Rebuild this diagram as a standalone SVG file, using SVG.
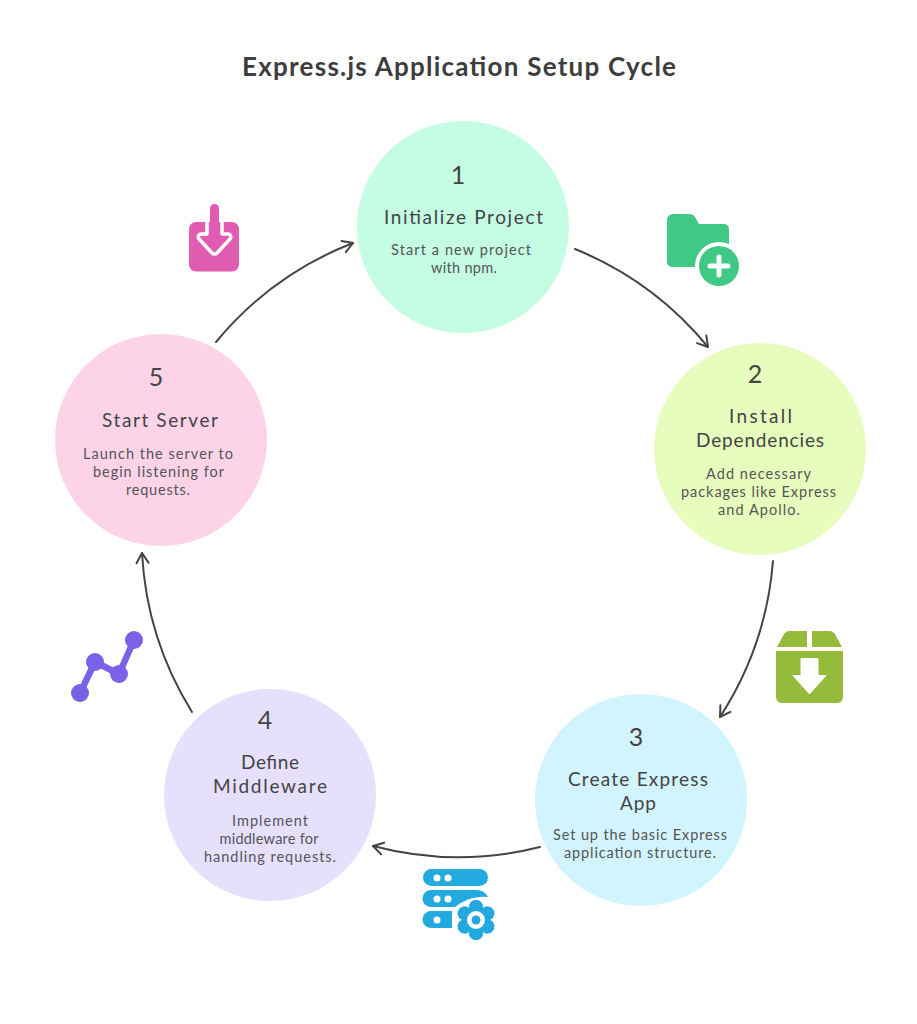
<svg xmlns="http://www.w3.org/2000/svg" width="917" height="1024" viewBox="0 0 917 1024">
<style>
text{font-family:"Lato","Open Sans","Liberation Sans",sans-serif;text-anchor:middle}
.t{font-size:26px;font-weight:700;fill:#3d3d3d}
.n{font-size:25px;fill:#444}
.h{font-size:19px;fill:#444}
.d{font-size:14.500px;fill:#555}
.c{fill:none;stroke:#444;stroke-width:2;stroke-linecap:round;marker-end:url(#a)}
</style>
<defs><marker id="a" markerWidth="16" markerHeight="16" refX="13" refY="8" orient="auto" markerUnits="userSpaceOnUse"><path d="M3 2 L13 8 L3 14" fill="none" stroke="#444" stroke-width="2" stroke-linecap="round" stroke-linejoin="round"/></marker></defs>
<rect width="917" height="1024" fill="#fff"/>
<text class="t" x="459" y="76" textLength="434">Express.js Application Setup Cycle</text>
<g id="connectors">
<path class="c" d="M575 249 A335 335 0 0 1 708 347"/>
<path class="c" d="M773 561 A335 335 0 0 1 720 717"/>
<path class="c" d="M540 847 A335 335 0 0 1 373 846"/>
<path class="c" d="M192 712 A335 335 0 0 1 142 553"/>
<path class="c" d="M216 342 A335 335 0 0 1 353 243"/>
</g>
<g id="node1"><circle cx="463" cy="227" r="106" fill="#c4fce4"/>
<text class="n" x="458" y="184">1</text><text class="h" x="463.500" y="224" textLength="159">Initialize Project</text>
<text class="d" x="461" y="255" textLength="140">Start a new project</text><text class="d" x="464" y="273" textLength="66">with npm.</text></g>
<g id="node2"><circle cx="760" cy="449" r="106" fill="#e6fdbd"/>
<text class="n" x="755" y="383">2</text><text class="h" x="760.500" y="423" textLength="63">Install</text><text class="h" x="760" y="447" textLength="128">Dependencies</text>
<text class="d" x="758.500" y="479" textLength="105">Add necessary</text><text class="d" x="758.500" y="497" textLength="155">packages like Express</text><text class="d" x="759" y="515" textLength="82">and Apollo.</text></g>
<g id="node3"><circle cx="641" cy="800" r="106" fill="#d2f4fe"/>
<text class="n" x="636" y="746">3</text><text class="h" x="638" y="786" textLength="140">Create Express</text><text class="h" x="638" y="810" textLength="36">App</text>
<text class="d" x="640" y="840" textLength="174">Set up the basic Express</text><text class="d" x="640" y="858" textLength="152">application structure.</text></g>
<g id="node4"><circle cx="270" cy="795" r="106" fill="#e6e0fd"/>
<text class="n" x="265" y="729">4</text><text class="h" x="270" y="769" textLength="58">Define</text><text class="h" x="270" y="793" textLength="114">Middleware</text>
<text class="d" x="270" y="826" textLength="76">Implement</text><text class="d" x="269" y="844" textLength="99">middleware for</text><text class="d" x="270" y="862" textLength="132">handling requests.</text></g>
<g id="node5"><circle cx="161" cy="440" r="106" fill="#fdd3e8"/>
<text class="n" x="156" y="386">5</text><text class="h" x="160" y="427" textLength="116">Start Server</text>
<text class="d" x="158" y="459" textLength="150">Launch the server to</text><text class="d" x="158.500" y="477" textLength="131">begin listening for</text><text class="d" x="158" y="495" textLength="64">requests.</text></g>
<g id="icon-folder"><path d="M667 220 a6 6 0 0 1 6 -6 h17 a6 6 0 0 1 5 3 l4 7 h25 a5 5 0 0 1 5 5 v33 a5 5 0 0 1 -5 5 h-52 a5 5 0 0 1 -5 -5z" fill="#3fc985"/>
<circle cx="719" cy="266" r="24" fill="#fff"/><circle cx="719" cy="266" r="20" fill="#3fc985"/>
<path d="M719 257v18M710 266h18" stroke="#fff" stroke-width="5" stroke-linecap="round"/></g>
<g id="icon-box"><path d="M777 647 l6 -11 a8 8 0 0 1 6 -5 h18 v16z M812 631 h18 a8 8 0 0 1 6 5 l6 11 h-30z" fill="#95bb3a"/>
<path d="M776 651 h67 v46 a6 6 0 0 1 -6 6 h-55 a6 6 0 0 1 -6 -6z" fill="#95bb3a"/>
<path d="M801 658.500 h17 v17 h8 l-16.500 18.500 l-16.500 -18.500 h8z" fill="#fff" stroke="#fff" stroke-linejoin="round"/></g>
<g id="icon-server"><rect x="423" y="869" width="65" height="17" rx="8.500" fill="#22a9dd"/>
<path d="M431 890 h45 a13 13 0 0 1 12 7 q-18 -2 -33 10 h-24 a8.500 8.500 0 0 1 0 -17z" fill="#22a9dd"/>
<path d="M431 911 h21 v17 h-21 a8.500 8.500 0 0 1 0 -17z" fill="#22a9dd"/>
<g fill="#fff"><circle cx="437" cy="878" r="3.500"/><circle cx="448" cy="878" r="3.500"/><circle cx="437" cy="899" r="3.500"/><circle cx="448" cy="899" r="3.500"/><circle cx="437" cy="920" r="3.500"/></g>
<g fill="#22a9dd" stroke="#fff" stroke-width="4" paint-order="stroke"><circle cx="476" cy="907" r="7"/><circle cx="476" cy="933" r="7"/><circle cx="464.700" cy="913.500" r="7"/><circle cx="487.300" cy="913.500" r="7"/><circle cx="464.700" cy="926.500" r="7"/><circle cx="487.300" cy="926.500" r="7"/></g>
<g fill="#22a9dd"><circle cx="476" cy="907" r="7"/><circle cx="476" cy="933" r="7"/><circle cx="464.700" cy="913.500" r="7"/><circle cx="487.300" cy="913.500" r="7"/><circle cx="464.700" cy="926.500" r="7"/><circle cx="487.300" cy="926.500" r="7"/><circle cx="476" cy="920" r="14"/></g>
<circle cx="476" cy="920" r="9" fill="#fff"/><circle cx="476" cy="920" r="4.500" fill="#22a9dd"/></g>
<g id="icon-chart"><path d="M80 693 L95 662 L119 674 L134 640" fill="none" stroke="#7b61e8" stroke-width="6.500"/>
<g fill="#7b61e8"><circle cx="80" cy="693" r="9"/><circle cx="95" cy="662" r="9"/><circle cx="119" cy="674" r="9"/><circle cx="134" cy="640" r="9"/></g></g>
<g id="icon-download"><rect x="189" y="222" width="50" height="49.500" rx="7" fill="#e05cb0"/>
<path d="M207 222 V234 H201 a3 3 0 0 0 -2 5 L212 253 a3.500 3.500 0 0 0 5 0 L230 239 a3 3 0 0 0 -2 -5 H222 V222" fill="#e05cb0" stroke="#fff" stroke-width="3.500" stroke-linejoin="round"/>
<path d="M210 208.500 a4.500 4.500 0 0 1 9 0 V240 h-9z" fill="#e05cb0"/></g>
</svg>
